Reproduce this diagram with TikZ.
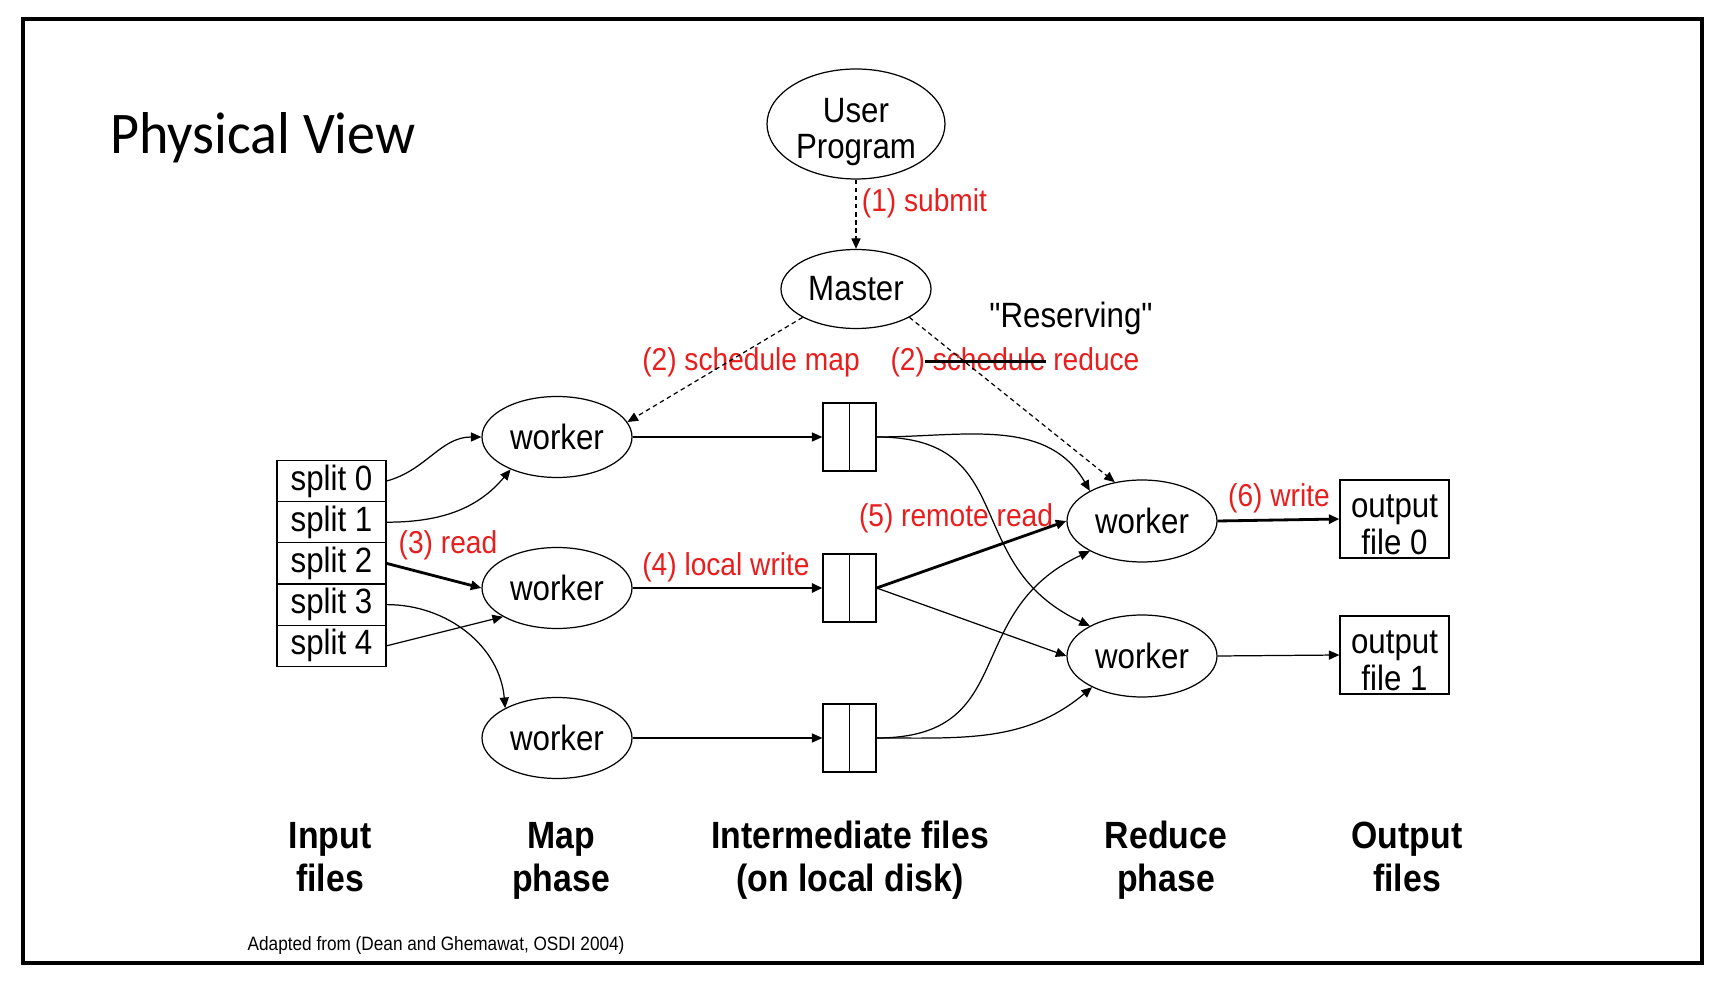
\documentclass[tikz,border=0pt]{standalone}
\usepackage{fontspec}
\setmainfont{Liberation Sans}[FakeStretch=0.89,Ligatures=TeXOff]
\newfontfamily\slidefont{Carlito}[FakeStretch=0.95]
\usetikzlibrary{arrows.meta,shapes.geometric}
\definecolor{stepred}{RGB}{232,30,30}
\newsavebox{\strikebox}
\newcommand{\blackstrike}[1]{\sbox{\strikebox}{#1}#1\llap{\textcolor{black}{\rule[0.4ex]{\wd\strikebox}{0.9pt}}}}

\begin{document}
\begin{tikzpicture}[font=\fontsize{10}{10.5}\selectfont]
	\tikzstyle{proc}=[ellipse,draw,line width=0.35pt,inner sep=0pt,minimum width=1.5cm,minimum height=0.81cm,align=center]
	\tikzstyle{split}=[rectangle,draw,line width=0.35pt,inner sep=0pt,minimum width=1.09cm,minimum height=0.412cm]
	\tikzstyle{ifile}=[rectangle,draw,line width=0.35pt,minimum width=0.53cm,minimum height=0.68cm,path picture={\draw[line width=0.35pt] (path picture bounding box.north) -- (path picture bounding box.south);}]
	\tikzstyle{ofile}=[rectangle,draw,line width=0.35pt,inner sep=0pt,minimum width=1.09cm,minimum height=0.78cm,align=center]
	\tikzstyle{flow}=[line width=0.35pt,-{Triangle[length=3pt,width=2.6pt]}]
	\tikzstyle{bigflow}=[flow,line width=0.8pt]
	\tikzstyle{ctrl}=[flow,dash pattern=on 1.3pt off 1pt]
	\tikzstyle{stepnote}=[text=stepred,font=\fontsize{9}{10}\selectfont,inner sep=1pt]
	\tikzstyle{phase}=[align=center,font=\fontsize{10.8}{12}\selectfont\bfseries]
	\useasboundingbox (0,0) rectangle (17.2,9.84);
	\draw [line width=0.9pt] (0.23,0.21) rectangle (17.02,9.65);
	\node (title) at (0.98,8.30) [anchor=base west,font=\slidefont\fontsize{16.8}{20}\selectfont] {Physical View};
	% master side
	\node (user)   at (8.56,8.60) [proc,minimum width=1.78cm,minimum height=1.10cm] {\raisebox{-2.6pt}[\height][\depth]{\begin{tabular}{@{}c@{}}User\\Program\end{tabular}}};
	\node (master) at (8.56,6.95) [proc,minimum height=0.79cm] {Master};
	\node (reserving) at (10.71,6.66) {"Reserving"};
	\node (schedmap) at (7.51,6.22) [stepnote] {(2) schedule map};
	\node (schedred) at (10.15,6.22) [stepnote] {(2)\blackstrike{ schedule} reduce};
	% input files
	\node (split0) at (3.315,5.030) [split] {split 0};
	\node (split1) at (3.315,4.618) [split] {split 1};
	\node (split2) at (3.315,4.206) [split] {split 2};
	\node (split3) at (3.315,3.794) [split] {split 3};
	\node (split4) at (3.315,3.382) [split] {split 4};
	% map phase
	\node (map1) at (5.57,5.47) [proc] {worker};
	\node (map2) at (5.57,3.96) [proc] {worker};
	\node (map3) at (5.57,2.46) [proc] {worker};
	% intermediate files
	\node (inter1) at (8.495,5.47) [ifile] {};
	\node (inter2) at (8.495,3.96) [ifile] {};
	\node (inter3) at (8.495,2.46) [ifile] {};
	% reduce phase and output
	\node (red1) at (11.42,4.63) [proc,minimum height=0.82cm] {worker};
	\node (red2) at (11.42,3.28) [proc,minimum height=0.82cm] {worker};
	\node (out0) at (13.945,4.65) [ofile] {\rule{0pt}{10pt}output\\file 0};
	\node (out1) at (13.945,3.29) [ofile] {\rule{0pt}{10pt}output\\file 1};
	\node (readnote)   at (4.48,4.39)  [stepnote] {(3) read};
	\node (writenote)  at (7.26,4.17)  [stepnote] {(4) local write};
	\node (remotenote) at (9.56,4.66)  [stepnote] {(5) remote read};
	\node (outnote)    at (12.79,4.86) [stepnote] {(6) write};
	% control
	\draw [ctrl] (user.south) -- (master.north) node (submit) [stepnote,right,pos=0.34,inner xsep=1.5pt] {(1) submit};
	\draw [ctrl] (master.208) -- (map1.12);
	\draw [ctrl] (master.-28) -- (red1.125);
	% read
	\draw [flow] (split0.east) to [out=15,in=180] (map1.west);
	\draw [flow] (split1.east) to [out=0,in=230] (map1.215);
	\draw [bigflow] (split2.east) -- (map2.west);
	\draw [flow] (split3.east) to [out=0,in=95] (map3.150);
	\draw [flow] (split4.east) -- (map2.208);
	% local write
	\draw [flow] (map1.east) -- (inter1.west);
	\draw [bigflow] (map2.east) -- (inter2.west);
	\draw [flow] (map3.east) -- (inter3.west);
	% remote read
	\draw [flow] (inter1.east) to [out=0,in=120] (red1.150);
	\draw [flow] (inter1.east) to [out=0,in=155,looseness=1.3] (red2.150);
	\draw [bigflow] (inter2.east) -- (red1.west);
	\draw [flow] (inter2.east) -- (red2.west);
	\draw [flow] (inter3.east) to [out=0,in=205,looseness=1.3] (red1.210);
	\draw [flow] (inter3.east) to [out=0,in=220] (red2.212);
	% write
	\draw [bigflow] (red1.east) -- (out0.west);
	\draw [flow] (red2.east) -- (out1.west);
	% phases
	\node (inlabel)    at (3.30,1.225)  [phase] {Input\strut\\files\strut};
	\node (maplabel)   at (5.61,1.225)  [phase] {Map\strut\\phase\strut};
	\node (interlabel) at (8.50,1.225)  [phase] {Intermediate files\strut\\(on local disk)\strut};
	\node (redlabel)   at (11.66,1.225) [phase] {Reduce\strut\\phase\strut};
	\node (outlabel)   at (14.07,1.225) [phase] {Output\strut\\files\strut};
	\node (credit) at (2.47,0.38) [anchor=west,inner sep=0pt,font=\fontsize{5.5}{6}\selectfont] {Adapted from (Dean and Ghemawat, OSDI 2004)};
\end{tikzpicture}
\end{document}
